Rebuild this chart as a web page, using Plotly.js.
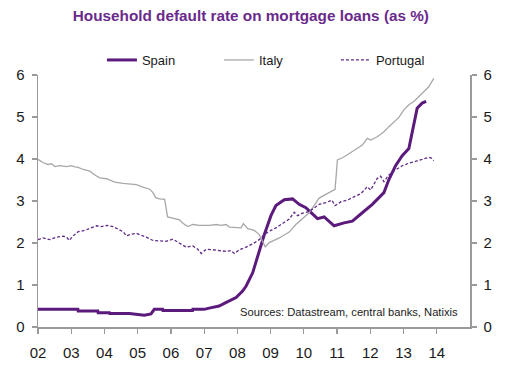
<!DOCTYPE html>
<html>
<head>
<meta charset="utf-8">
<script src="https://cdn.plot.ly/plotly-3.0.1.min.js"></script>
<style>html,body{margin:0;padding:0;background:#fff;}#chart{width:512px;height:371px;}</style>
</head>
<body>
<div id="chart"></div>
<script>
// Decimal-year x values and default rates (%)
const spainX = [2002.0,2003.2,2003.21,2003.8,2003.81,2004.15,2004.16,2004.75,2005.2,2005.4,2005.5,2005.75,2005.76,2006.65,2006.66,2007.0,2007.15,2007.45,2007.65,2007.96,2008.15,2008.26,2008.46,2008.61,2008.81,2009.01,2009.16,2009.41,2009.66,2009.86,2010.06,2010.21,2010.41,2010.61,2010.91,2011.21,2011.46,2011.76,2012.06,2012.41,2012.56,2012.76,2012.96,2013.16,2013.31,2013.41,2013.56,2013.68];
const spainY = [0.42,0.42,0.38,0.38,0.34,0.34,0.32,0.32,0.28,0.31,0.42,0.42,0.39,0.39,0.42,0.42,0.45,0.50,0.58,0.70,0.85,0.97,1.29,1.69,2.20,2.65,2.89,3.03,3.05,2.92,2.84,2.73,2.58,2.62,2.41,2.48,2.52,2.72,2.92,3.20,3.51,3.84,4.08,4.25,4.79,5.21,5.33,5.37];

const italyX = [2002.0,2002.16,2002.3,2002.4,2002.51,2002.66,2002.86,2003.01,2003.11,2003.21,2003.36,2003.56,2003.71,2003.86,2004.06,2004.31,2004.56,2004.76,2004.96,2005.16,2005.36,2005.46,2005.54,2005.66,2005.81,2005.9,2006.11,2006.26,2006.36,2006.51,2006.66,2006.86,2007.16,2007.36,2007.51,2007.66,2007.76,2007.96,2008.11,2008.18,2008.31,2008.51,2008.66,2008.84,2008.96,2009.26,2009.56,2009.76,2010.16,2010.46,2010.76,2010.94,2011.01,2011.16,2011.31,2011.46,2011.61,2011.76,2011.91,2012.01,2012.21,2012.41,2012.56,2012.71,2012.86,2013.01,2013.16,2013.31,2013.46,2013.61,2013.76,2013.91];
const italyY = [3.99,3.91,3.87,3.89,3.82,3.84,3.82,3.84,3.81,3.80,3.75,3.71,3.62,3.55,3.53,3.45,3.42,3.40,3.39,3.33,3.28,3.20,3.08,3.05,3.04,2.62,2.58,2.55,2.47,2.39,2.44,2.42,2.42,2.44,2.42,2.44,2.38,2.36,2.36,2.46,2.34,2.30,2.20,1.91,2.01,2.12,2.26,2.44,2.72,3.07,3.19,3.28,3.98,4.03,4.10,4.17,4.25,4.33,4.49,4.45,4.53,4.65,4.77,4.87,4.99,5.17,5.29,5.37,5.49,5.61,5.72,5.92];

const portugalX = [2002.0,2002.15,2002.36,2002.56,2002.76,2002.86,2002.94,2003.06,2003.21,2003.41,2003.56,2003.76,2003.91,2004.08,2004.26,2004.41,2004.56,2004.66,2004.81,2004.96,2005.11,2005.26,2005.46,2005.66,2005.86,2006.06,2006.24,2006.46,2006.66,2006.81,2006.91,2007.06,2007.26,2007.46,2007.66,2007.81,2007.91,2008.06,2008.26,2008.46,2008.66,2008.81,2008.96,2009.16,2009.36,2009.56,2009.71,2009.81,2009.96,2010.16,2010.46,2010.66,2010.84,2010.94,2011.11,2011.31,2011.51,2011.71,2011.91,2012.01,2012.21,2012.31,2012.41,2012.56,2012.76,2012.96,2013.16,2013.36,2013.56,2013.76,2013.84,2013.91];
const portugalY = [2.08,2.12,2.08,2.14,2.16,2.14,2.06,2.17,2.27,2.30,2.35,2.41,2.39,2.42,2.39,2.33,2.27,2.17,2.21,2.23,2.19,2.14,2.06,2.05,2.04,2.09,2.01,1.90,1.93,1.85,1.75,1.85,1.84,1.82,1.80,1.82,1.75,1.84,1.90,1.98,2.08,2.20,2.28,2.36,2.46,2.57,2.73,2.65,2.71,2.75,2.92,2.96,3.02,2.89,2.98,3.02,3.10,3.17,3.34,3.26,3.54,3.59,3.46,3.62,3.74,3.84,3.90,3.94,3.99,4.04,4.02,3.96];

const yearTicks = [2002,2003,2004,2005,2006,2007,2008,2009,2010,2011,2012,2013,2014];
const yearLabels = ["02","03","04","05","06","07","08","09","10","11","12","13","14"];
const valueTicks = [0,1,2,3,4,5,6];

const font = "Liberation Sans, Arial, sans-serif";

const traces = [
  {x: spainX, y: spainY, name: "Spain", type: "scatter", mode: "lines",
   line: {color: "#5B1A7C", width: 3}},
  {x: italyX, y: italyY, name: "Italy", type: "scatter", mode: "lines",
   line: {color: "#A8A8A8", width: 1.3}},
  {x: portugalX, y: portugalY, name: "Portugal", type: "scatter", mode: "lines",
   line: {color: "#5E2A86", width: 1.3, dash: "3px,2px"}},
  {x: [2002], y: [null], yaxis: "y2", showlegend: false, hoverinfo: "skip", type: "scatter", mode: "lines"}
];

const axisCommon = {
  showgrid: false, zeroline: false, showline: true, linecolor: "#9A9A9A", linewidth: 1.5,
  ticks: "outside", ticklen: 5, tickwidth: 1.2, tickcolor: "#9A9A9A",
  tickfont: {family: font, size: 15, color: "#1a1a1a"}
};

const layout = {
  width: 512, height: 371,
  margin: {l: 38, r: 42, t: 75, b: 44},
  paper_bgcolor: "#fff", plot_bgcolor: "#fff",
  title: {text: "Household default rate on mortgage loans (as %)",
          font: {family: font, size: 15.3, color: "#6A2A8C", weight: "bold"},
          x: 0.49, xanchor: "center", y: 0.958, yanchor: "middle"},
  showlegend: true,
  legend: {orientation: "h", x: 0.148, xanchor: "left", y: 1.0, yanchor: "bottom",
           font: {family: font, size: 13, color: "#1a1a1a"}, bgcolor: "rgba(0,0,0,0)",
           itemwidth: 30, traceorder: "normal", entrywidth: 72, entrywidthmode: "pixels"},
  xaxis: Object.assign({}, axisCommon, {range: [2002, 2015], tickvals: yearTicks, ticktext: yearLabels,
           ticklabelstandoff: 6}),
  yaxis: Object.assign({}, axisCommon, {range: [0, 6], tickvals: valueTicks, ticklabelstandoff: 4}),
  yaxis2: Object.assign({}, axisCommon, {range: [0, 6], tickvals: valueTicks, overlaying: "y", side: "right",
           ticklabelstandoff: 4}),
  annotations: [{text: "Sources: Datastream, central banks, Natixis", xref: "paper", yref: "paper",
                 x: 0.976, y: 0.06, xanchor: "right", yanchor: "middle", showarrow: false,
                 font: {family: font, size: 11.2, color: "#1a1a1a"}}]
};

Plotly.newPlot("chart", traces, layout, {displayModeBar: false, staticPlot: true});
</script>
</body>
</html>
